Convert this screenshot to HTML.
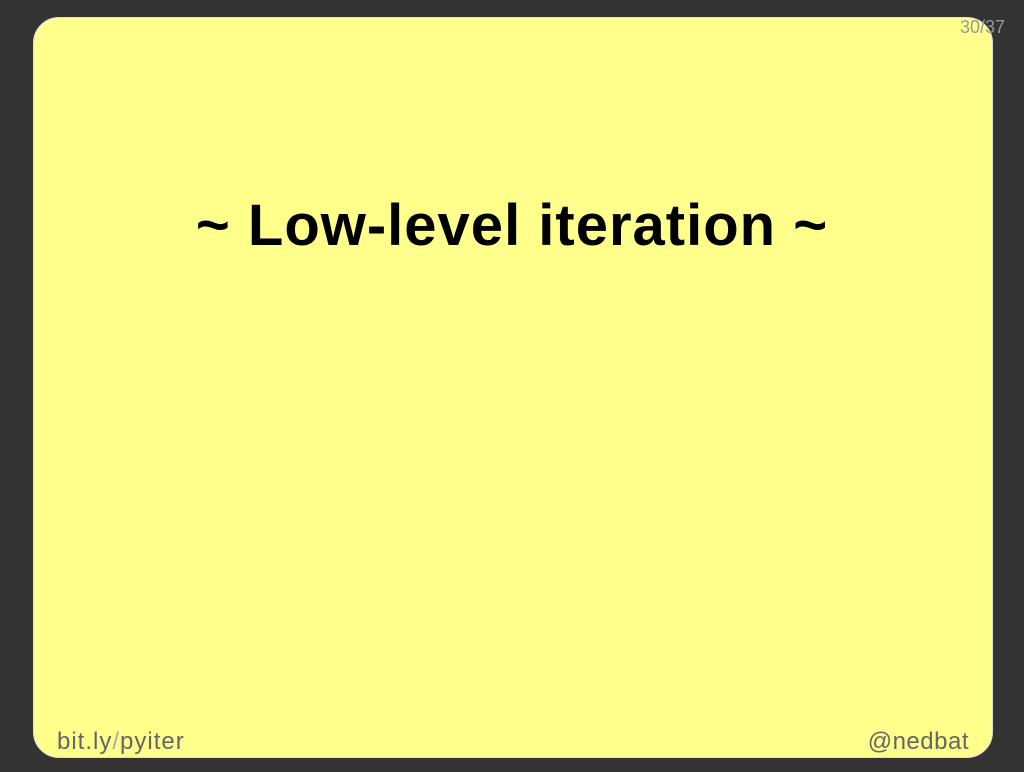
<!DOCTYPE html>
<html><head><meta charset="utf-8"><style>
html,body{margin:0;padding:0;}
body{width:1024px;height:772px;background:#333333;position:relative;overflow:hidden;font-family:"Liberation Sans",sans-serif;}
.slide{position:absolute;left:33px;top:17px;width:958px;height:739px;background:#ffff8c;border-radius:26px;border:1px solid #ddd;}
h1{position:absolute;left:0;top:192px;width:1024px;text-align:center;margin:0;font-size:58px;font-weight:bold;color:#000;letter-spacing:1px;}
.f{position:absolute;top:728px;font-size:24px;color:#666;}
.pg{position:absolute;top:17px;right:19px;font-size:18px;color:#999;}
</style></head><body>
<div class="slide"></div>
<div class="pg">30/37</div>
<h1>~ Low-level iteration ~</h1>
<div class="f" style="left:57px;letter-spacing:1px">bit.ly<span style="color:#aaa">/</span>pyiter</div>
<div class="f" style="right:55px;letter-spacing:0.5px">@nedbat</div>
</body></html>
